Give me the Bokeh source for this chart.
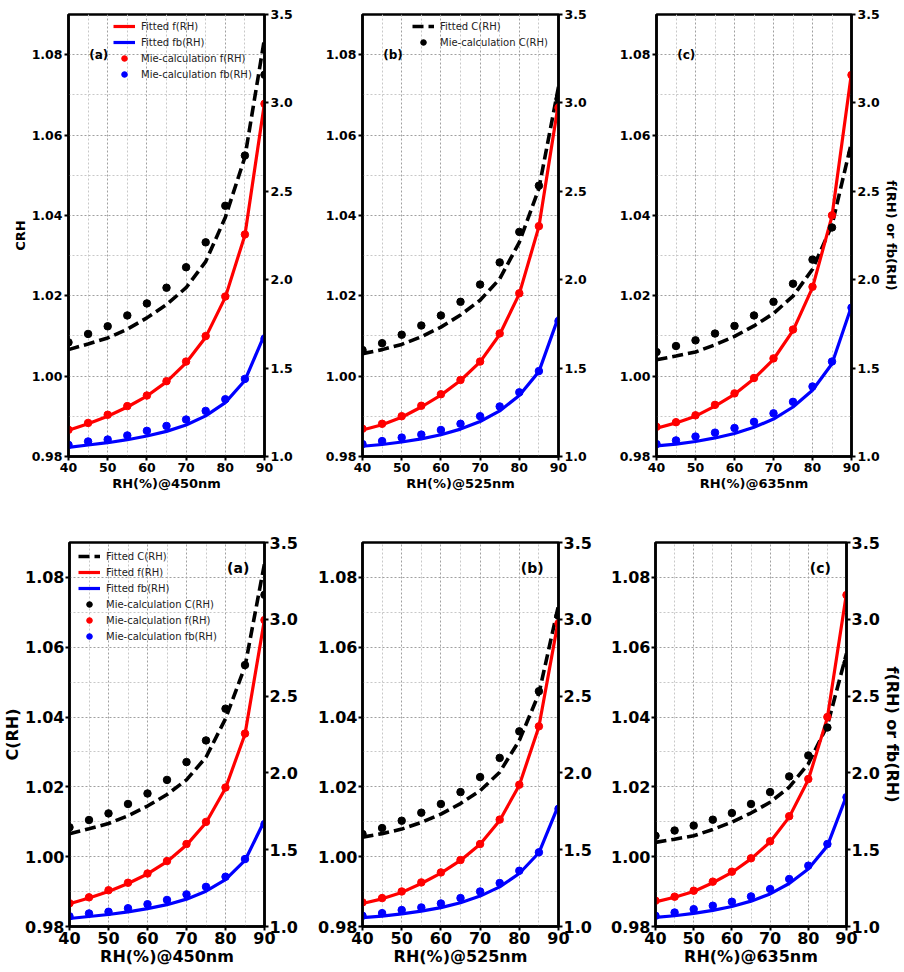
from bokeh.plotting import figure
from bokeh.models import (Range1d, LinearAxis, FixedTicker, PrintfTickFormatter,
                          Legend, LegendItem, Label)
from bokeh.layouts import row, column
from bokeh.embed import file_html
from bokeh.resources import INLINE

# ---------------- data ----------------
RH = [40, 45, 50, 55, 60, 65, 70, 75, 80, 85, 90]

# 450 nm
C_fit_450 = [1.0066, 1.0080, 1.0095, 1.0117, 1.0145, 1.0178, 1.0220, 1.0285, 1.0395, 1.0545, 1.0840]
C_mie_450 = [1.0084, 1.0105, 1.0124, 1.0151, 1.0181, 1.0220, 1.0271, 1.0333, 1.0424, 1.0549, 1.0750]
f_fit_450 = [1.148, 1.185, 1.228, 1.280, 1.342, 1.422, 1.530, 1.675, 1.900, 2.252, 3.000]
f_mie_450 = [1.151, 1.190, 1.236, 1.285, 1.345, 1.426, 1.537, 1.681, 1.905, 2.256, 2.995]
fb_fit_450 = [1.052, 1.065, 1.078, 1.095, 1.116, 1.142, 1.178, 1.230, 1.305, 1.430, 1.690]
fb_mie_450 = [1.066, 1.085, 1.096, 1.119, 1.145, 1.173, 1.209, 1.258, 1.324, 1.439, 1.666]

# 525 nm
C_fit_525 = [1.0056, 1.0066, 1.0079, 1.0098, 1.0122, 1.0152, 1.0189, 1.0242, 1.0333, 1.0467, 1.0720]
C_mie_525 = [1.0065, 1.0082, 1.0103, 1.0126, 1.0151, 1.0185, 1.0228, 1.0283, 1.0359, 1.0474, 1.0690]
f_fit_525 = [1.150, 1.180, 1.222, 1.280, 1.347, 1.430, 1.535, 1.690, 1.920, 2.300, 3.000]
f_mie_525 = [1.157, 1.185, 1.228, 1.287, 1.352, 1.433, 1.537, 1.696, 1.923, 2.303, 2.973]
fb_fit_525 = [1.058, 1.068, 1.082, 1.100, 1.123, 1.155, 1.198, 1.258, 1.345, 1.480, 1.790]
fb_mie_525 = [1.070, 1.087, 1.107, 1.124, 1.150, 1.185, 1.228, 1.283, 1.363, 1.483, 1.766]

# 635 nm
C_fit_635 = [1.0041, 1.0050, 1.0060, 1.0078, 1.0099, 1.0125, 1.0156, 1.0199, 1.0266, 1.0376, 1.0582]
C_mie_635 = [1.0060, 1.0075, 1.0089, 1.0106, 1.0125, 1.0151, 1.0185, 1.0230, 1.0290, 1.0370, 1.0555]
f_fit_635 = [1.160, 1.190, 1.228, 1.285, 1.352, 1.440, 1.550, 1.712, 1.955, 2.360, 3.170]
f_mie_635 = [1.168, 1.194, 1.233, 1.292, 1.357, 1.444, 1.555, 1.718, 1.960, 2.364, 3.158]
fb_fit_635 = [1.060, 1.070, 1.085, 1.105, 1.130, 1.165, 1.212, 1.280, 1.375, 1.525, 1.850]
fb_mie_635 = [1.070, 1.091, 1.113, 1.135, 1.161, 1.196, 1.244, 1.309, 1.396, 1.537, 1.842]

X_TICKS = [40, 50, 60, 70, 80, 90]
X_MINOR = [45, 55, 65, 75, 85]
C_TICKS = [0.98, 1.00, 1.02, 1.04, 1.06, 1.08]
C_MINOR = [0.99, 1.01, 1.03, 1.05, 1.07, 1.09]
F_TICKS = [1.0, 1.5, 2.0, 2.5, 3.0, 3.5]

FONT = "DejaVu Sans"


def make_panel(c_fit, c_mie, f_fit, f_mie, fb_fit, fb_mie, xlabel, tag, tag_xy,
               big, left_label, right_label, legend_kind, legend_loc, borders):
    bl, fw, br, bt, fh, bb = borders
    p = figure(width=bl + fw + br, height=bt + fh + bb,
               x_range=Range1d(40, 90), y_range=Range1d(0.98, 1.09),
               output_backend="svg", toolbar_location=None,
               min_border_left=bl, min_border_right=br,
               min_border_top=bt, min_border_bottom=bb)
    p.extra_y_ranges = {"f": Range1d(1.0, 3.5)}
    raxis = LinearAxis(y_range_name="f")
    p.add_layout(raxis, "right")

    tick_fs = "16px" if big else "12.5px"
    lab_fs = "16px" if big else "13px"

    p.xaxis.ticker = FixedTicker(ticks=X_TICKS, minor_ticks=X_MINOR)
    yt = FixedTicker(ticks=C_TICKS, minor_ticks=C_MINOR)
    p.yaxis[0].ticker = yt
    p.yaxis[0].formatter = PrintfTickFormatter(format="%.2f")
    raxis.ticker = FixedTicker(ticks=F_TICKS)
    raxis.formatter = PrintfTickFormatter(format="%.1f")

    for ax in p.axis:
        ax.axis_line_width = 2.5
        ax.axis_line_color = "black"
        ax.major_tick_line_width = 2
        ax.major_tick_line_color = "black"
        ax.major_tick_out = 4
        ax.major_tick_in = 0
        ax.minor_tick_line_color = None
        ax.major_label_text_font = FONT
        ax.major_label_text_font_style = "bold"
        ax.major_label_text_font_size = tick_fs
        ax.major_label_text_color = "black"
        ax.major_label_standoff = 1 if big else 2
        ax.axis_label_text_font = FONT
        ax.axis_label_text_font_style = "bold"
        ax.axis_label_text_font_size = lab_fs
        ax.axis_label_text_color = "black"
        ax.axis_label_standoff = 0 if big else 1

    p.xaxis.axis_label = xlabel
    if left_label:
        p.yaxis[0].axis_label = left_label
    if right_label:
        raxis.axis_label = right_label

    for g in (p.xgrid, p.ygrid):
        g.grid_line_color = "#a0a0a0"
        g.grid_line_dash = "2 2"
        g.grid_line_width = 1
        g.minor_grid_line_color = "#c8c8c8"
        g.minor_grid_line_dash = "2 2"
        g.minor_grid_line_width = 1
    p.ygrid.ticker = yt

    p.outline_line_color = "black"
    p.outline_line_width = 2.5
    p.background_fill_color = "white"
    p.border_fill_color = "white"

    lw = 3.2
    r_cf = p.line(RH, c_fit, line_color="black", line_width=3.6, line_dash="11 5")
    r_ff = p.line(RH, f_fit, line_color="red", line_width=lw, y_range_name="f")
    r_bf = p.line(RH, fb_fit, line_color="blue", line_width=lw, y_range_name="f")
    r_cm = p.scatter(RH, c_mie, size=7.5, color="black")
    r_fm = p.scatter(RH, f_mie, size=7.5, color="red", y_range_name="f")
    r_bm = p.scatter(RH, fb_mie, size=7.5, color="blue", y_range_name="f")

    items = None
    if legend_kind == "f":
        items = [LegendItem(label="Fitted f(RH)", renderers=[r_ff]),
                 LegendItem(label="Fitted fb(RH)", renderers=[r_bf]),
                 LegendItem(label="Mie-calculation f(RH)", renderers=[r_fm]),
                 LegendItem(label="Mie-calculation fb(RH)", renderers=[r_bm])]
    elif legend_kind == "c":
        items = [LegendItem(label="Fitted C(RH)", renderers=[r_cf]),
                 LegendItem(label="Mie-calculation C(RH)", renderers=[r_cm])]
    elif legend_kind == "all":
        items = [LegendItem(label="Fitted C(RH)", renderers=[r_cf]),
                 LegendItem(label="Fitted f(RH)", renderers=[r_ff]),
                 LegendItem(label="Fitted fb(RH)", renderers=[r_bf]),
                 LegendItem(label="Mie-calculation C(RH)", renderers=[r_cm]),
                 LegendItem(label="Mie-calculation f(RH)", renderers=[r_fm]),
                 LegendItem(label="Mie-calculation fb(RH)", renderers=[r_bm])]
    if items:
        leg = Legend(items=items, location=legend_loc,
                     border_line_color=None, background_fill_alpha=0,
                     label_text_font=FONT, label_text_font_size="10px",
                     label_text_color="#222222",
                     glyph_width=22, glyph_height=14, label_height=16,
                     spacing=0, padding=0, margin=0, label_standoff=6)
        p.add_layout(leg, "center")

    p.add_layout(Label(x=tag_xy[0], y=tag_xy[1], text=tag,
                       text_font=FONT, text_font_style="bold",
                       text_font_size="14px" if big else "12px",
                       text_baseline="middle", text_align="left",
                       text_color="black"))
    return p


# borders: (left, frame_w, right, top, frame_h, bottom)
TOP_A = (68, 196, 34, 14, 442, 42)
TOP_B = (64, 196, 34, 14, 442, 42)
TOP_C = (64, 195, 53, 14, 442, 42)
BOT_A = (68, 196, 36, 44, 384, 44)
BOT_B = (62, 196, 36, 44, 384, 44)
BOT_C = (61, 195, 54, 44, 384, 44)

TAG_TOP = (45.3, 1.080)
TAG_BOT = (80.4, 1.0828)

a1 = make_panel(C_fit_450, C_mie_450, f_fit_450, f_mie_450, fb_fit_450, fb_mie_450,
                "RH(%)@450nm", "(a)", TAG_TOP, False, "CRH", None, "f", (45, 374), TOP_A)
b1 = make_panel(C_fit_525, C_mie_525, f_fit_525, f_mie_525, fb_fit_525, fb_mie_525,
                "RH(%)@525nm", "(b)", TAG_TOP, False, None, None, "c", (50, 406), TOP_B)
c1 = make_panel(C_fit_635, C_mie_635, f_fit_635, f_mie_635, fb_fit_635, fb_mie_635,
                "RH(%)@635nm", "(c)", TAG_TOP, False, None, "f(RH) or fb(RH)", None, None, TOP_C)

a2 = make_panel(C_fit_450, C_mie_450, f_fit_450, f_mie_450, fb_fit_450, fb_mie_450,
                "RH(%)@450nm", "(a)", TAG_BOT, True, "C(RH)", None, "all", (9, 282), BOT_A)
b2 = make_panel(C_fit_525, C_mie_525, f_fit_525, f_mie_525, fb_fit_525, fb_mie_525,
                "RH(%)@525nm", "(b)", TAG_BOT, True, None, None, None, None, BOT_B)
c2 = make_panel(C_fit_635, C_mie_635, f_fit_635, f_mie_635, fb_fit_635, fb_mie_635,
                "RH(%)@635nm", "(c)", TAG_BOT, True, None, "f(RH) or fb(RH)", None, None, BOT_C)

layout = column(row(a1, b1, c1, spacing=0), row(a2, b2, c2, spacing=0), spacing=0)

with open("out.html", "w") as fh:
    fh.write(file_html(layout, INLINE))
